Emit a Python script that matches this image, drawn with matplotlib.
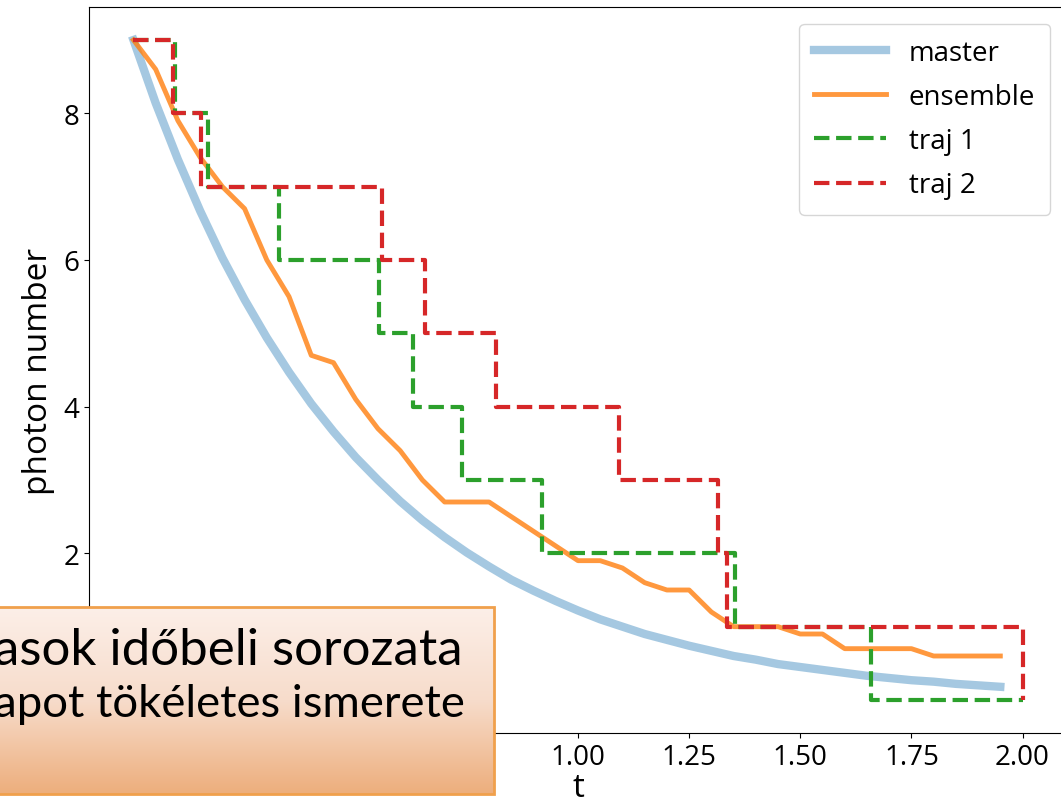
import numpy as np
import matplotlib
matplotlib.use('Agg')
import matplotlib.pyplot as plt
from matplotlib.colors import LinearSegmentedColormap
from matplotlib.patches import Rectangle

plt.rcParams['font.family'] = ['Open Sans', 'DejaVu Sans']
plt.rcParams['font.size'] = 20

# time grid of the averaged curves
t = np.arange(40) * 0.05
master = [9.00, 8.14, 7.37, 6.67, 6.03, 5.46, 4.94, 4.47, 4.04, 3.66,
          3.31, 3.00, 2.71, 2.45, 2.22, 2.01, 1.82, 1.64, 1.49, 1.35,
          1.22, 1.10, 1.00, 0.90, 0.82, 0.74, 0.67, 0.60, 0.55, 0.49,
          0.45, 0.41, 0.37, 0.33, 0.30, 0.27, 0.25, 0.22, 0.20, 0.18]
ensemble = [9.0, 8.6, 7.9, 7.4, 7.0, 6.7, 6.0, 5.5, 4.7, 4.6,
            4.1, 3.7, 3.4, 3.0, 2.7, 2.7, 2.7, 2.5, 2.3, 2.1,
            1.9, 1.9, 1.8, 1.6, 1.5, 1.5, 1.2, 1.0, 1.0, 1.0,
            0.9, 0.9, 0.7, 0.7, 0.7, 0.7, 0.6, 0.6, 0.6, 0.6]

# single quantum trajectories: jump times and photon number after each jump
traj1_t = [0.0, 0.093, 0.168, 0.327, 0.552, 0.628, 0.739, 0.920, 1.353, 1.659, 2.0]
traj1_n = [9, 8, 7, 6, 5, 4, 3, 2, 1, 0, 0]
traj2_t = [0.0, 0.088, 0.152, 0.559, 0.655, 0.815, 1.092, 1.314, 1.336, 2.0]
traj2_n = [9, 8, 7, 6, 5, 4, 3, 2, 1, 0]

box_lines = ['asok időbeli sorozata', 'apot tökéletes ismerete']

fig = plt.figure(figsize=(10.61, 8.04), dpi=100)
ax = fig.add_axes([89/1061, 1 - 734/804, (1067 - 89)/1061, (734 - 8)/804])

ax.plot(t, master, color='tab:blue', alpha=0.4, lw=6, label='master')
ax.plot(t, ensemble, color='tab:orange', alpha=0.8, lw=3.5, label='ensemble')
ax.plot(traj1_t, traj1_n, '--', color='tab:green', lw=3, drawstyle='steps-post', label='traj 1')
ax.plot(traj2_t, traj2_n, '--', color='tab:red', lw=3, drawstyle='steps-post', label='traj 2')

ax.set_xlim(-0.1, 2.1)
ax.set_ylim(-0.45, 9.45)
ax.set_xticks(np.arange(0, 2.01, 0.25))
ax.set_yticks([2, 4, 6, 8])
ax.set_xlabel('t', fontsize=24, labelpad=0)
ax.set_ylabel('photon number', fontsize=24, labelpad=6)
ax.legend(loc='upper right', handlelength=2.6, labelspacing=0.58,
          borderpad=0.55, borderaxespad=0.6)

# slide text box laid over the lower left corner
box = fig.add_axes([-6/1061, 1 - 795/804, 500/1061, (795 - 608)/804])
grad = LinearSegmentedColormap.from_list('peach', ['#fcefe8', '#f7dccb', '#edae7c'])
box.imshow(np.linspace(0, 1, 256).reshape(-1, 1), cmap=grad, aspect='auto',
           extent=[0, 1, 0, 1], origin='upper')
box.add_patch(Rectangle((0, 0), 1, 1, transform=box.transAxes, fill=False,
                        edgecolor='#f0a04c', lw=2, clip_on=False))
box.set_xlim(0, 1)
box.set_ylim(0, 1)
box.axis('off')

# each line right-aligned, font size fitted so it runs off the left edge slightly
renderer = fig.canvas.get_renderer()
for line, right, base in zip(box_lines, [463, 465], [665, 717]):
    txt = fig.text(right/1061, 1 - base/804, line, ha='right', va='baseline',
                   fontsize=34, family=['Lato', 'DejaVu Sans'])
    w = txt.get_window_extent(renderer).width
    txt.set_fontsize(34 * (right + 6) / w)

fig.savefig('out.png', dpi=100)
